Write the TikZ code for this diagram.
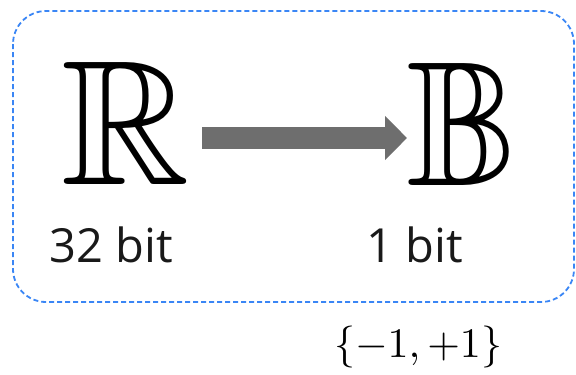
\documentclass[tikz,border=0pt]{standalone}
\usepackage{amssymb}
\usepackage{fontspec}
\setmainfont{Open Sans}
\usetikzlibrary{arrows.meta}
\definecolor{boxblue}{RGB}{58,134,245}
\definecolor{arrowgray}{RGB}{110,110,110}

\begin{document}
\begin{tikzpicture}[x=1pt,y=-1pt,
  setsym/.style={inner sep=0pt,scale=17.8,text=black},
  bitlabel/.style={font=\fontsize{47}{56}\selectfont,text=black!90,anchor=base,inner sep=0pt}]
\useasboundingbox (0,0) rectangle (576,375);
\draw[boxblue,line width=1.8pt,dash pattern=on 5pt off 3pt,rounded corners=33pt] (13,11) rectangle (574,302);

\node[setsym] (R) at (126,123) {$\mathbb{R}$};
\node[setsym,xscale=0.92] (B) at (462,124) {$\mathbb{B}$};
\coordinate (start) at (202,138);
\coordinate (tip) at (407,138);
\draw[arrowgray,line width=22pt,-{Triangle[length=22pt,width=43pt]}] (start) -- (tip);

\node[bitlabel] (rbits) at (111.5,262) {32 bit};
\node[bitlabel] (bbits) at (414.5,262) {1 bit};
\node[inner sep=0pt,scale=4.2] (vals) at (418,347) {$\{-1,+1\}$};
\end{tikzpicture}
\end{document}
